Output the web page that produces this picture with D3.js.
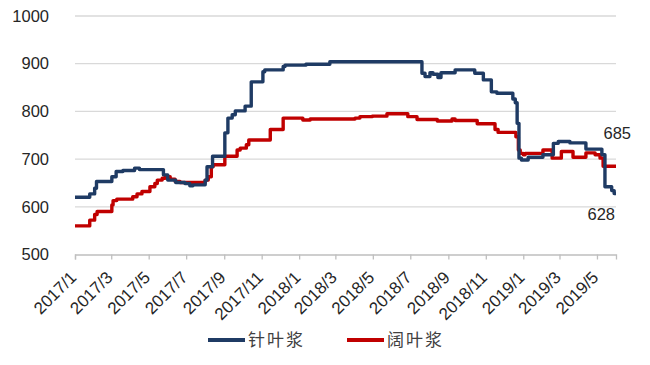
<!DOCTYPE html>
<html>
<head>
<meta charset="utf-8">
<script src="https://cdn.jsdelivr.net/npm/d3@7/dist/d3.min.js"></script>
<style>
  html, body { margin: 0; padding: 0; background: #fff; }
  svg { display: block; }
</style>
</head>
<body>
<svg id="chart" width="650" height="365"></svg>
<script>
// Softwood pulp (针叶浆) price, change points
const softDates = [
  "2017-01-01","2017-01-25","2017-02-02","2017-02-05","2017-03-02","2017-03-09","2017-03-20",
  "2017-04-08","2017-04-16","2017-05-25","2017-06-01","2017-06-14","2017-06-29","2017-07-07",
  "2017-07-12","2017-08-01","2017-08-04","2017-08-13","2017-09-02","2017-09-07","2017-09-14",
  "2017-09-19","2017-10-05","2017-10-15","2017-11-03","2017-11-06","2017-12-06","2017-12-09",
  "2018-01-12","2018-02-20","2018-07-20","2018-07-25","2018-08-02","2018-08-07","2018-08-15",
  "2018-08-20","2018-09-12","2018-10-14","2018-10-28","2018-11-10","2018-11-19","2018-12-15",
  "2018-12-19","2018-12-22","2018-12-25","2018-12-29","2019-01-09","2019-02-02","2019-02-19",
  "2019-02-27","2019-03-18","2019-04-13","2019-05-09","2019-05-14","2019-05-25","2019-05-29",
  "2019-06-01"
];
const softValues = [
  620, 627, 639, 653, 663, 674, 676,
  681, 678, 667, 656, 651, 649, 644,
  646, 656, 684, 706, 755, 786, 793,
  801, 811, 862, 883, 887, 894, 897,
  899, 904, 880, 873, 881, 878, 871,
  881, 887, 880, 866, 841, 838, 826,
  818, 775, 702, 698, 704, 709, 733,
  737, 734, 721, 709, 642, 634, 628,
  628
];

// Hardwood pulp (阔叶浆) price, change points
const hardDates = [
  "2017-01-01","2017-01-25","2017-02-02","2017-02-06","2017-03-02","2017-03-04","2017-03-10",
  "2017-04-05","2017-04-12","2017-04-20","2017-05-03","2017-05-11","2017-05-15","2017-05-23",
  "2017-05-28","2017-06-05","2017-06-13","2017-06-21","2017-08-01","2017-08-06","2017-08-11",
  "2017-08-14","2017-09-02","2017-09-22","2017-09-27","2017-10-07","2017-10-11","2017-11-15",
  "2017-12-06","2018-01-07","2018-01-19","2018-04-02","2018-04-10","2018-04-30","2018-05-24",
  "2018-06-27","2018-07-12","2018-08-14","2018-09-07","2018-09-12","2018-10-18","2018-11-16",
  "2018-11-21","2018-12-20","2018-12-24","2018-12-27","2019-01-01","2019-01-04","2019-02-02",
  "2019-02-17","2019-03-04","2019-03-23","2019-04-13","2019-04-28","2019-05-06","2019-05-11",
  "2019-06-01"
];
const hardValues = [
  560, 572, 584, 590, 604, 613, 616,
  621, 627, 632, 642, 649, 656, 660,
  663, 658, 653, 651, 656, 663, 684,
  688, 706, 719, 723, 730, 740, 762,
  786, 782, 784, 786, 789, 790, 795,
  789, 783, 780, 784, 781, 774, 762,
  756, 747, 719, 712, 709, 712, 719,
  702, 716, 704, 713, 709, 702, 685,
  685
];

const seriesNames = ["针叶浆", "阔叶浆"];
const seriesColors = ["#1f3b64", "#c00000"];

const yTicks = [500, 600, 700, 800, 900, 1000];
const xTickLabels = [
  "2017/1","2017/3","2017/5","2017/7","2017/9","2017/11",
  "2018/1","2018/3","2018/5","2018/7","2018/9","2018/11",
  "2019/1","2019/3","2019/5"
];

const parse = d3.timeParse("%Y-%m-%d");
const toPoints = (dates, vals) => dates.map((d, i) => ({ date: parse(d), value: vals[i] }));
const series = [
  { name: seriesNames[0], color: seriesColors[0], points: toPoints(softDates, softValues) },
  { name: seriesNames[1], color: seriesColors[1], points: toPoints(hardDates, hardValues) }
];

const svg = d3.select("#chart");
const plotLeft = 75, plotRight = 616, plotTop = 16, plotBottom = 254.5;
const latin = "Liberation Sans, Arial, sans-serif";

const x = d3.scaleTime()
  .domain([parse("2017-01-01"), parse("2019-06-01")])
  .range([plotLeft, plotRight]);
const y = d3.scaleLinear().domain([500, 1000]).range([plotBottom, plotTop]);

// horizontal gridlines
svg.append("g")
  .selectAll("line")
  .data(yTicks.filter(v => v > 500))
  .join("line")
  .attr("x1", plotLeft).attr("x2", plotRight)
  .attr("y1", d => y(d)).attr("y2", d => y(d))
  .attr("stroke", "#d9d9d9").attr("stroke-width", 1.3);

// y axis labels
const yAxis = d3.axisLeft(y).tickValues(yTicks).tickSize(0).tickPadding(0)
  .tickFormat(d3.format("d"));
const gy = svg.append("g").attr("transform", `translate(49,0)`).call(yAxis);
gy.select(".domain").remove();
gy.selectAll("text")
  .attr("font-family", latin)
  .attr("font-size", 16.5)
  .attr("fill", "#262626");

// x axis with month ticks every two months
const tickDates = xTickLabels.map(s => {
  const [yy, mm] = s.split("/").map(Number);
  return new Date(yy, mm - 1, 1);
});
const xAxis = d3.axisBottom(x)
  .tickValues(tickDates)
  .tickSize(5)
  .tickFormat((d, i) => xTickLabels[i]);
const gx = svg.append("g").attr("transform", `translate(0,${plotBottom})`).call(xAxis);
gx.select(".domain").attr("stroke", "#bfbfbf").attr("stroke-width", 1.3);
gx.selectAll(".tick line").attr("stroke", "#bfbfbf").attr("stroke-width", 1.3);
gx.selectAll("text")
  .attr("font-family", latin)
  .attr("font-size", 17)
  .attr("fill", "#262626")
  .attr("text-anchor", "end")
  .attr("x", 0).attr("y", 0).attr("dy", 0)
  .attr("transform", "translate(2,24) rotate(-45)");

// price lines
const line = d3.line()
  .x(d => x(d.date))
  .y(d => y(d.value))
  .curve(d3.curveStepAfter);

svg.append("g")
  .selectAll("path")
  .data(series.slice().reverse())
  .join("path")
  .attr("d", d => line(d.points))
  .attr("fill", "none")
  .attr("stroke", d => d.color)
  .attr("stroke-width", 3.4)
  .attr("stroke-linejoin", "round");

// end value labels
const lastSoft = series[0].points[series[0].points.length - 1];
const lastHard = series[1].points[series[1].points.length - 1];
svg.append("text")
  .attr("x", x(lastHard.date) + 15).attr("y", y(lastHard.value) - 27)
  .attr("text-anchor", "end")
  .attr("font-family", latin)
  .attr("font-size", 16.5).attr("fill", "#262626")
  .text(lastHard.value);
svg.append("text")
  .attr("x", x(lastSoft.date) - 1).attr("y", y(lastSoft.value) + 27)
  .attr("text-anchor", "end")
  .attr("font-family", latin)
  .attr("font-size", 16.5).attr("fill", "#262626")
  .text(lastSoft.value);

// legend
const legendX = [208, 347];
const lg = svg.append("g");
series.forEach((s, i) => {
  lg.append("line")
    .attr("x1", legendX[i]).attr("x2", legendX[i] + 37)
    .attr("y1", 340).attr("y2", 340)
    .attr("stroke", s.color).attr("stroke-width", 4);
  lg.append("text")
    .attr("x", legendX[i] + 40).attr("y", 346)
    .attr("font-family", "Noto Sans CJK SC, sans-serif")
    .attr("font-size", 17)
    .attr("letter-spacing", 2)
    .attr("fill", "#404040")
    .text(s.name);
});
</script>
</body>
</html>
